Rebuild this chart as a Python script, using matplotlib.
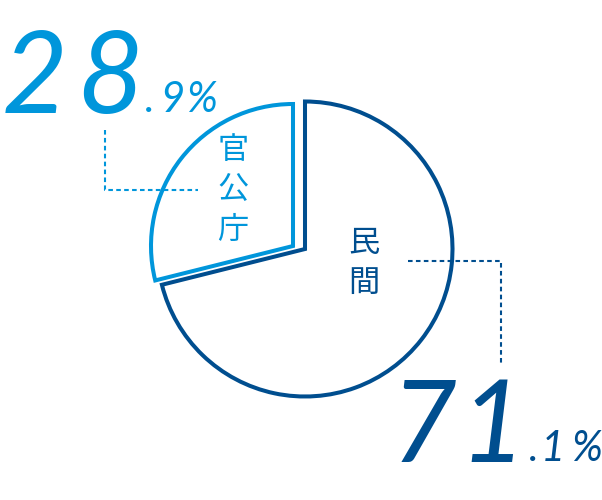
import matplotlib
matplotlib.use("Agg")
import matplotlib.pyplot as plt
from matplotlib.lines import Line2D

# data
categories = ["民間", "官公庁"]
values = [71.1, 28.9]
colors = ["#004e8f", "#0096db"]

W, H = 602, 500
fig = plt.figure(figsize=(W / 100, H / 100), dpi=100)
ax = fig.add_axes([0, 0, 1, 1])

def py(y):
    return H - y

lw = 2.9
wedges, _ = ax.pie(values, startangle=90, counterclock=False,
                   center=(305, py(249)), radius=147.5, frame=True,
                   colors=["white", "white"],
                   wedgeprops=dict(linewidth=lw, joinstyle="miter"))
ax.set_xlim(0, W)
ax.set_ylim(0, H)
ax.set_aspect("equal")
ax.axis("off")
for w, c in zip(wedges, colors):
    w.set_edgecolor(c)
# small slice pulled out and slightly smaller
wedges[1].set_center((293, py(246)))
wedges[1].set_radius(142)

# category labels (vertical)
CJK = ["Noto Sans CJK JP", "DejaVu Sans"]
def vlabel(text, x, y0, color):
    for i, ch in enumerate(text):
        ax.text(x, py(y0 + i * 40), ch, fontsize=22.5, color=color,
                family=CJK, ha="center", va="center")

vlabel(categories[1], 233, 150, colors[1])
vlabel(categories[0], 364, 243, colors[0])

# leader lines
dash = dict(linestyle=(0, (2.2, 1.6)), linewidth=1.5)
ax.add_line(Line2D([105, 105, 198], [py(130), py(190), py(190)], color=colors[1], **dash))
ax.add_line(Line2D([408, 501, 501], [py(261), py(261), py(363)], color=colors[0], **dash))

# percentages
NUM = ["Lato", "DejaVu Sans"]
def pct(v, xs, y, xf, color):
    ip, fp = f"{v:.1f}".split(".")
    for ch, x in zip(ip, xs):
        ax.text(x, py(y), ch, fontsize=82, color=color, family=NUM,
                style="italic", ha="center", va="baseline")
    for ch, x in zip("." + fp + "%", xf):
        ax.text(x, py(y - 1), ch, fontsize=30, color=color, family=NUM,
                style="italic", ha="center", va="baseline")

pct(values[1], [35, 110], 113, [150, 172, 202], colors[1])
pct(values[0], [424, 492], 462, [534, 553, 587], colors[0])

fig.savefig("out.png", dpi=100, facecolor="white")
